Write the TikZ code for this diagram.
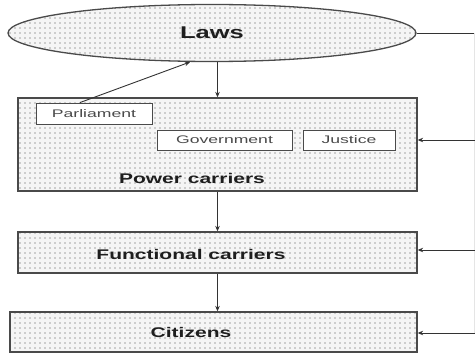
\documentclass[tikz,border=0pt]{standalone}
\usepackage{fontspec}
\setmainfont{Liberation Sans}
\newfontfamily\wbold[FakeStretch=1.5]{Liberation Sans Bold}
\newfontfamily\wreg[FakeStretch=1.6]{Liberation Sans}
\usetikzlibrary{shapes.geometric,arrows.meta,patterns}
\pgfdeclarepatternformonly{mydots}{\pgfqpoint{-1pt}{-1pt}}{\pgfqpoint{1pt}{1pt}}{\pgfqpoint{5pt}{5pt}}{%
  \pgfpathcircle{\pgfqpoint{0pt}{0pt}}{0.8pt}\pgfusepath{fill}}
\definecolor{edge}{HTML}{4A4A4A}
\definecolor{txt}{HTML}{1E1E1E}
\definecolor{subtxt}{HTML}{4A4A4A}
\tikzset{
  dotted fill/.style={preaction={fill=gray!8}, pattern=mydots, pattern color=gray!70},
  bigbox/.style={draw=edge, line width=1.3pt, dotted fill, rectangle, inner sep=0pt},
  smallbox/.style={draw=edge, line width=0.9pt, fill=white, rectangle, inner sep=0pt,
    font=\wreg\fontsize{11}{12}\selectfont, text=subtxt},
  boldtext/.style={font=\wbold\fontsize{14}{16}\selectfont, text=txt, inner sep=0pt},
  conn/.style={draw=black!80, line width=0.9pt},
  arr/.style={conn, -{Stealth[length=5.5pt,width=4.5pt]}},
}
\begin{document}
\begin{tikzpicture}[x=1pt,y=-1pt]
\useasboundingbox[fill=white] (0,0) rectangle (475,353);
% Laws ellipse
\node[ellipse, draw=edge, line width=1.3pt, dotted fill, minimum width=408pt, minimum height=57pt, inner sep=0pt,
  font=\wbold\fontsize{17}{19}\selectfont, text=txt] (laws) at (212,33) {Laws};
% Power carriers box
\node[bigbox, minimum width=399pt, minimum height=93pt] (power) at (217.5,144.5) {};
\node[smallbox, minimum width=116pt, minimum height=21pt] (parl) at (94,113.5) {Parliament};
\node[smallbox, minimum width=135pt, minimum height=20pt] (gov) at (224.5,140) {Government};
\node[smallbox, minimum width=92pt, minimum height=20pt] (just) at (349,140) {Justice};
\node[boldtext] (powerlbl) at (192,178) {Power carriers};
% Functional carriers
\node[bigbox, minimum width=399pt, minimum height=41pt] (func) at (217.5,252.5) {};
\node[boldtext] (funclbl) at (191,254.5) {Functional carriers};
% Citizens
\node[bigbox, minimum width=407pt, minimum height=40pt] (cit) at (213.5,332) {};
\node[boldtext] (citlbl) at (191,332.5) {Citizens};
% vertical arrows
\draw[arr] (power.north |- laws.south) -- (power.north);
\draw[arr] (power.south) -- (func.north);
\draw[arr] (func.south) -- (func.south |- cit.north);
\draw[arr] ([xshift=-14pt]parl.north) -- (laws.233);
% feedback on the right
\coordinate (fb0) at (474.5,33);
\coordinate (fb1) at (474.5,140);
\coordinate (fb2) at (474.5,250);
\coordinate (fb3) at (474.5,333);
\draw[conn] (laws.east) -- (fb0);
\draw[draw=gray!20, line width=0.8pt] (fb0) -- (fb3);
\draw[arr] (fb1) -- (fb1 -| power.east);
\draw[arr] (fb2) -- (fb2 -| func.east);
\draw[arr] (fb3) -- (fb3 -| cit.east);
\end{tikzpicture}
\end{document}
